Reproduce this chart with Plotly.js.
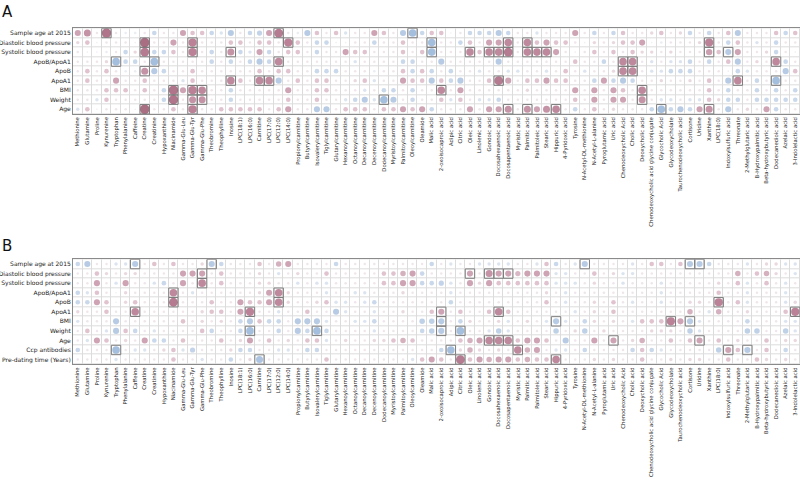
<!DOCTYPE html>
<html><head><meta charset="utf-8">
<script src="https://cdn.plot.ly/plotly-3.0.1.min.js"></script>
<style>html,body{margin:0;padding:0;background:#fff}#chart{width:800px;height:488px}</style>
</head><body><div id="chart"></div>
<script>
const metabolites = ["Methionine","Glutamine","Proline","Kynurenine","Tryptophan","Phenylalanine","Caffeine","Creatine","Creatinine","Hypoxanthine","Niacinamide","Gamma-Glu-Leu","Gamma-Glu-Tyr","Gamma-Glu-Phe","Theobromine","Theophylline","Inosine","LPC(18:1)","LPC(16:0)","Carnitine","LPC(17:0)","LPC(12:0)","LPC(14:0)","Propionylcarnitine","Butyrylcarnitine","Isovalerylcarnitine","Tiglylcarnitine","Glutarylcarnitine","Hexanoylcarnitine","Octanoylcarnitine","Decanoylcarnitine","Decenoylcarnitine","Dodecanoylcarnitine","Myristoylcarnitine","Palmitoylcarnitine","Oleoylcarnitine","Oleamide","Malic acid","2-oxoisocaproic acid","Adipic acid","Citric acid","Oleic acid","Linolenic acid","Gondoic acid","Docosahexaenoic acid","Docosapentaenoic acid","Myristic acid","Palmitic acid","Palmitoleic acid","Stearic acid","Hippuric acid","4-Pyridoxic acid","Tyrosine","N-Acetyl-DL-methionine","N-Acetyl-L-alanine","Pyroglutamic acid","Uric acid","Chenodeoxycholic Acid","Cholic acid","Deoxycholic acid","Chenodeoxycholic acid glycine conjugate","Glycocholic Acid","Glycodeoxycholate","Taurochenodeoxycholic acid","Cortisone","Uridine","Xanthine","LPC(18:0)","Indoxylsulfuric acid","Threonate","2-Methylglutaric acid","B-Hydroxypalmitic acid","Beta-hydroxybutyric acid","Dodecanedioic acid","Azelaic acid","3-Indolelactic acid"];

const rowsA = ["Sample age at 2015","Diastolic blood pressure","Systolic blood pressure","ApoB/ApoA1","ApoB","ApoA1","BMI","Weight","Age"];
const rowsB = ["Sample age at 2015","Diastolic blood pressure","Systolic blood pressure","ApoB/ApoA1","ApoB","ApoA1","BMI","Weight","Age","Ccp antibodies","Pre-dating time (Years)"];

// Panel A: correlation coefficients x100, one array per clinical variable
const A_sampleAge = [15,18,3,26,3,-3,-3,3,-10,3,3,15,10,10,-10,-6,-15,3,-10,-12,15,24,3,-3,-15,10,3,
  10,-6,3,3,15,10,3,-15,-20,-10,10,10,0,3,-10,-10,-10,-15,-10,3,3,-6,3,3,3,15,
  3,-10,3,-10,10,3,3,6,10,3,6,-10,3,-10,3,10,-15,3,3,3,10,-10,10];
const A_diastolic = [6,10,0,3,3,3,0,28,3,3,15,3,22,3,3,3,10,10,3,10,10,3,22,10,3,-10,-10,
  0,0,3,3,-10,3,3,10,3,3,-20,3,3,-10,10,3,15,15,20,3,20,10,15,10,10,3,
  0,6,3,6,10,10,15,0,-3,3,3,3,6,22,3,-10,10,3,-6,3,-10,3,3];
const A_systolic = [3,0,0,-3,3,-10,6,24,-10,-10,10,3,22,3,-10,3,18,-10,-6,15,-10,3,10,10,3,-10,3,
  3,15,10,10,3,3,3,10,3,10,-20,3,3,3,20,10,20,20,24,3,20,20,20,15,3,0,
  3,10,3,10,3,10,6,6,3,6,3,3,3,16,10,-15,15,3,3,6,-10,3,0];
const A_apoRatio = [3,3,3,6,-20,-10,-10,3,-20,3,3,3,3,3,-10,3,-10,3,-10,-15,-10,20,3,3,3,3,3,
  3,3,-6,3,3,3,3,-10,-10,3,3,-15,3,3,3,3,3,-15,3,3,3,3,3,3,3,10,
  3,3,-10,3,20,20,3,-6,3,-6,-6,-10,3,-10,3,10,-15,3,6,3,20,-10,3];
const A_apoB = [3,10,3,10,3,-3,-3,18,-15,-10,3,3,10,3,3,3,3,3,3,10,3,10,10,3,3,-10,-10,
  -10,3,3,3,-3,3,3,10,-10,10,-10,3,-10,3,3,-6,3,3,-6,-6,3,3,-6,3,10,3,
  -6,3,3,6,20,20,3,-6,-6,-10,-10,-10,3,3,3,0,-10,-6,3,3,3,-15,10];
const A_apoA1 = [3,10,3,3,15,3,3,10,3,3,3,-6,10,3,3,3,20,10,3,20,20,-15,3,10,3,10,10,
  3,3,6,10,-6,3,3,15,10,10,-15,10,-10,-15,3,3,10,24,15,3,10,10,15,10,10,3,
  3,-10,15,-10,-15,-10,3,3,6,3,3,6,3,10,3,-15,20,3,-10,3,-20,3,3];
const A_bmi = [3,3,3,10,10,10,3,10,3,-10,26,15,22,20,3,3,-10,3,3,3,3,3,15,3,3,10,10,
  3,3,3,-6,3,-10,-10,3,-10,3,3,20,3,15,3,3,3,3,3,3,6,3,3,3,3,15,
  3,15,3,15,10,3,20,3,3,3,3,3,3,10,3,-10,3,3,-10,3,-10,3,-10];
const A_weight = [3,3,-6,10,3,3,3,3,3,-10,26,3,18,18,3,3,-10,3,3,3,3,3,10,3,3,10,3,
  3,-6,-10,-15,-6,-20,-15,3,-10,3,3,10,-6,10,3,-6,-6,-10,3,3,3,3,3,3,3,10,
  3,15,3,15,15,3,18,3,-6,-6,3,-6,-6,10,6,-10,-10,3,-10,-10,-10,-10,-10];
const A_age = [-6,10,0,3,3,3,0,28,3,3,10,3,22,3,3,10,10,10,10,10,3,10,15,3,3,-15,-15,
  3,10,10,10,3,10,10,15,10,15,-10,3,3,3,15,3,15,15,18,3,18,15,18,20,3,-10,
  3,10,3,6,3,3,3,-10,-20,-10,-15,-10,15,18,3,-15,3,6,3,15,-10,3,3];

// Panel B
const B_sampleAge = [-10,-15,3,3,-6,-6,-15,3,10,3,10,3,3,6,-15,-10,3,3,3,10,3,13,15,3,3,3,3,
  -10,3,3,3,3,3,3,3,3,3,-10,3,-6,3,3,-6,-6,-6,-6,3,3,-6,10,-10,3,-6,
  -15,3,3,3,3,-6,3,10,10,3,10,-15,-15,-10,3,3,3,-6,3,6,6,-6,-6];
const B_diastolic = [3,3,10,6,3,6,6,3,3,3,3,15,15,15,3,10,3,3,3,6,3,-6,3,6,3,3,10,
  3,3,3,3,3,10,10,13,15,-10,3,3,3,3,15,3,18,15,15,12,15,15,15,-6,-6,3,
  3,10,3,6,-6,-6,3,3,3,3,3,3,3,3,3,3,13,3,10,13,6,3,-6];
const B_systolic = [3,3,15,3,-6,15,3,3,-6,-10,3,15,3,20,3,10,3,3,3,6,6,3,3,-6,3,-6,-6,
  3,3,3,3,3,10,10,15,15,-10,-10,-12,-6,3,15,6,15,10,10,10,10,10,10,-6,-6,-6,
  3,6,3,3,-6,3,3,3,-6,3,3,3,3,3,6,3,10,-6,3,10,3,-6,3];
const B_apoRatio = [-10,-6,10,3,0,6,3,3,3,3,20,3,-6,3,3,3,3,3,3,6,15,20,6,3,3,3,-6,
  3,3,-6,-6,3,3,3,6,3,3,3,3,-6,3,3,3,3,3,3,3,3,3,6,3,-6,3,
  3,3,3,3,3,3,3,3,-6,3,3,3,3,3,10,3,3,-6,3,3,3,-6,3];
const B_apoB = [-10,-10,15,10,0,6,10,3,3,3,24,3,3,3,10,3,3,15,10,10,15,20,6,3,3,6,10,
  -6,-6,3,-6,-10,3,3,3,3,3,3,3,-10,3,3,3,3,3,3,3,3,3,10,3,-6,3,
  3,6,3,10,3,-6,3,3,-6,3,3,6,6,3,22,3,10,-6,3,3,3,-6,6];
const B_apoA1 = [6,3,3,10,3,3,20,3,3,3,3,3,3,6,10,10,3,15,22,3,3,-6,3,3,10,3,3,
  -15,-6,3,3,-6,3,3,6,3,3,10,15,3,10,3,3,10,20,10,3,3,3,3,3,3,-6,
  3,6,3,10,3,3,3,3,3,3,3,13,3,-6,13,3,3,6,3,3,3,10,22];
const B_bmi = [-6,3,3,3,-15,3,3,3,3,3,3,10,3,6,3,6,3,-10,-15,10,-10,-10,3,-15,-15,-15,-6,
  3,3,-6,-6,-10,3,3,3,3,-13,-13,-15,3,-10,6,3,3,6,-6,3,6,3,-6,-15,-6,3,
  -10,6,3,6,3,-6,10,10,10,22,15,-15,-6,3,3,3,3,-10,3,3,3,-6,-6];
const B_weight = [3,10,3,-6,-15,10,-10,3,-6,3,3,3,3,10,-10,3,3,-10,-20,3,3,-10,3,-15,-10,-20,-10,
  3,3,3,3,-6,3,3,3,3,-10,-13,-15,3,-20,3,3,-6,-13,-6,3,3,3,3,-13,3,6,
  -13,3,6,3,3,3,3,6,6,6,3,-13,-6,3,3,3,3,-13,-13,3,3,-13,-6];
const B_age = [3,-6,15,10,3,6,3,15,-10,-10,3,10,3,3,3,10,3,6,15,3,10,3,6,3,10,10,-6,
  3,6,3,3,6,6,10,13,10,3,3,3,3,10,13,15,20,20,20,10,15,15,10,3,-15,3,
  3,15,3,15,3,6,13,3,3,10,3,10,15,3,10,3,6,3,3,10,3,6,6];
const B_ccp = [-10,3,3,3,-20,3,-6,-6,3,6,10,-6,-12,3,3,3,6,-10,-10,3,3,-6,-6,3,-10,-10,3,
  3,3,3,3,3,3,3,3,3,3,3,-10,-20,6,13,6,3,6,3,20,13,15,3,-6,-6,3,
  -10,3,3,3,3,-10,10,-10,-6,3,3,3,3,3,-13,15,10,-15,3,10,3,-10,3];
const B_predating = [3,3,3,3,-6,3,3,3,3,3,10,3,3,-6,3,3,-10,3,6,-18,3,3,3,3,3,3,10,
  3,3,3,3,3,3,3,3,-6,10,15,10,3,24,10,15,13,15,15,10,13,10,10,20,3,3,
  3,6,3,6,3,3,10,3,3,6,3,6,6,3,3,10,3,3,10,6,3,6,3];

// significant cells (metabolite index) per row
const sigA = [[3,21,35],[7,12,22,37,45,47,66],[7,12,16,37,41,43,44,45,47,48,49,66,68],[4,8,21,57,58,73],[7,57,58],[16,19,20,44,69,73],[10,12,13,38,59],[10,12,13,32,59],[7,12,45,47,50,61,66]];
const sigB = [[6,14,53,64,65],[13,41,43,44,45],[13],[10,21],[10,21,67],[6,18,38,44,75],[38,50,62,64],[18,25,38,40],[43,44,45,56,65],[4,39,46,68,70],[19,40,50]];

const panelA = [A_sampleAge,A_diastolic,A_systolic,A_apoRatio,A_apoB,A_apoA1,A_bmi,A_weight,A_age];
const panelB = [B_sampleAge,B_diastolic,B_systolic,B_apoRatio,B_apoB,B_apoA1,B_bmi,B_weight,B_age,B_ccp,B_predating];

const idx = metabolites.map((_, i) => i);
const cscale = [[0,'#5887c3'],[0.036,'#628dc6'],[0.143,'#7ea2d0'],[0.23,'#98b5d9'],[0.32,'#b3c8e2'],[0.44,'#dde4ee'],[0.5,'#ebe6ec'],[0.56,'#e8dbe2'],[0.68,'#d3a9ba'],[0.77,'#b87d94'],[0.857,'#a35573'],[0.964,'#8e3a5a'],[1,'#86304f']];

function panelTraces(data, rows, sig, xa, ya) {
  const bg = {type:'heatmap', x: idx, y: rows.map((_, j) => j), z: rows.map(() => idx.map(() => 0)),
    colorscale:[[0,'#ffffff'],[1,'#ffffff']], showscale:false, xgap:1, ygap:1, hoverinfo:'skip', xaxis:xa, yaxis:ya};
  const x=[], y=[], c=[], s=[];
  data.forEach((vals, j) => vals.forEach((v, i) => { x.push(i); y.push(j); c.push(v); s.push(Math.min(9.6, 1.6 + 0.3*Math.abs(v))); }));
  const dots = {type:'scatter', mode:'markers', x, y, xaxis:xa, yaxis:ya, hoverinfo:'skip',
    marker:{size:s, color:c, colorscale:cscale, cmin:-28, cmax:28, showscale:false, line:{width:0}}};
  const bx=[], by=[];
  sig.forEach((cols, j) => cols.forEach(i => { bx.push(i); by.push(j); }));
  const boxes = {type:'scatter', mode:'markers', x:bx, y:by, xaxis:xa, yaxis:ya, hoverinfo:'skip',
    marker:{symbol:'square-open', size:9.4, color:'#7d7d7d', line:{width:1}}};
  return [bg, dots, boxes];
}

const traces = [...panelTraces(panelA, rowsA, sigA, 'x', 'y'), ...panelTraces(panelB, rowsB, sigB, 'x2', 'y2')];

const font = 'DejaVu Sans, sans-serif';
function xAxis(anchor) {
  return {domain:[73/800, 1], range:[-0.5, metabolites.length - 0.5], anchor, tickmode:'array', tickvals:idx, ticktext:metabolites,
    tickangle:-90, tickfont:{family:font, size:5.3, color:'#222'}, ticks:'', showgrid:false, zeroline:false,
    showline:true, mirror:true, linecolor:'#8a8a8a', linewidth:1, automargin:false, fixedrange:true};
}
function yAxis(anchor, rows, dom) {
  return {domain:dom, range:[rows.length - 0.5, -0.5], anchor, tickmode:'array', tickvals:rows.map((_, j) => j), ticktext:rows,
    tickfont:{family:font, size:6, color:'#222'}, ticks:'', showgrid:false, zeroline:false,
    showline:true, mirror:true, linecolor:'#8a8a8a', linewidth:1, automargin:false, fixedrange:true};
}

const layout = {
  width:800, height:488, margin:{l:0, r:0, t:0, b:0},
  paper_bgcolor:'#ffffff', plot_bgcolor:'#dcdcdc', showlegend:false,
  xaxis: xAxis('y'), yaxis: yAxis('x', rowsA, [1 - 114/488, 1 - 28.3/488]),
  xaxis2: xAxis('y2'), yaxis2: yAxis('x2', rowsB, [1 - 364.3/488, 1 - 259.3/488]),
  annotations:[
    {text:'A', xref:'paper', yref:'paper', x:0, y:1 - 1/488, xanchor:'left', yanchor:'top', showarrow:false, font:{family:font, size:15, color:'#111'}},
    {text:'B', xref:'paper', yref:'paper', x:0, y:1 - 235/488, xanchor:'left', yanchor:'top', showarrow:false, font:{family:font, size:15, color:'#111'}}
  ]
};

Plotly.newPlot('chart', traces, layout, {staticPlot:true, displayModeBar:false});
</script></body></html>
